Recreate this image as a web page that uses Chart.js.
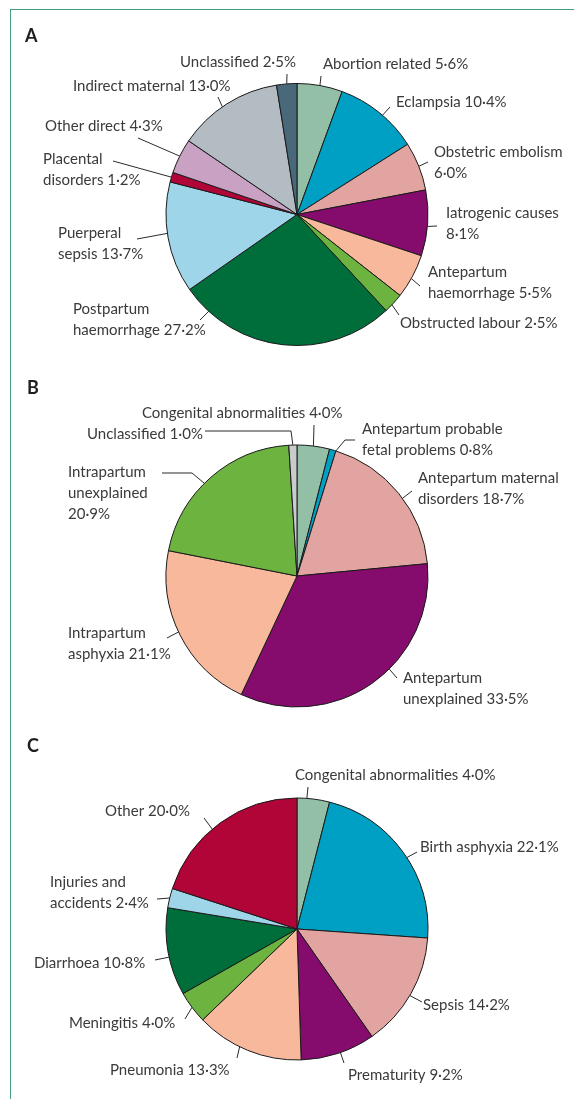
<!DOCTYPE html>
<html>
<head>
<meta charset="utf-8">
<script src="https://cdn.jsdelivr.net/npm/chart.js@4/dist/chart.umd.min.js"></script>
<style>
  html, body { margin: 0; padding: 0; background: #ffffff; }
  body { width: 574px; height: 1099px; position: relative; overflow: hidden; }
  #frame { position: absolute; left: 10px; top: 9px; width: 600px; height: 1200px;
           border-top: 1.5px solid #45a07c; border-left: 1.5px solid #45a07c; }
  canvas { position: absolute; left: 0; }
</style>
</head>
<body>
<div id="frame"></div>
<canvas id="cA" width="574" height="360" style="top:0px"></canvas>
<canvas id="cB" width="574" height="360" style="top:360px"></canvas>
<canvas id="cC" width="574" height="379" style="top:720px"></canvas>
<script>
// ---------- DATA ----------
const catsA = ["Abortion related", "Eclampsia", "Obstetric embolism", "Iatrogenic causes",
  "Antepartum haemorrhage", "Obstructed labour", "Postpartum haemorrhage", "Puerperal sepsis",
  "Placental disorders", "Other direct", "Indirect maternal", "Unclassified"];
const valsA = [5.6, 10.4, 6.0, 8.1, 5.5, 2.5, 27.2, 13.7, 1.2, 4.3, 13.0, 2.5];
const labelsA = [["Abortion related 5·6%"], ["Eclampsia 10·4%"], ["Obstetric embolism", "6·0%"],
  ["Iatrogenic causes", "8·1%"], ["Antepartum", "haemorrhage 5·5%"], ["Obstructed labour 2·5%"],
  ["Postpartum", "haemorrhage 27·2%"], ["Puerperal", "sepsis 13·7%"], ["Placental", "disorders 1·2%"],
  ["Other direct 4·3%"], ["Indirect maternal 13·0%"], ["Unclassified 2·5%"]];

const catsB = ["Congenital abnormalities", "Antepartum probable fetal problems",
  "Antepartum maternal disorders", "Antepartum unexplained", "Intrapartum asphyxia",
  "Intrapartum unexplained", "Unclassified"];
const valsB = [4.0, 0.8, 18.7, 33.5, 21.1, 20.9, 1.0];
const labelsB = [["Congenital abnormalities 4·0%"], ["Antepartum probable", "fetal problems 0·8%"],
  ["Antepartum maternal", "disorders 18·7%"], ["Antepartum", "unexplained 33·5%"],
  ["Intrapartum", "asphyxia 21·1%"], ["Intrapartum", "unexplained", "20·9%"], ["Unclassified 1·0%"]];

const catsC = ["Congenital abnormalities", "Birth asphyxia", "Sepsis", "Prematurity", "Pneumonia",
  "Meningitis", "Diarrhoea", "Injuries and accidents", "Other"];
const valsC = [4.0, 22.1, 14.2, 9.2, 13.3, 4.0, 10.8, 2.4, 20.0];
const labelsC = [["Congenital abnormalities 4·0%"], ["Birth asphyxia 22·1%"], ["Sepsis 14·2%"],
  ["Prematurity 9·2%"], ["Pneumonia 13·3%"], ["Meningitis 4·0%"], ["Diarrhoea 10·8%"],
  ["Injuries and", "accidents 2·4%"], ["Other 20·0%"]];

// ---------- STYLE / LAYOUT ----------
const C = {
  sage: "#93bfa6", cyan: "#00a0c4", pink: "#e2a4a1", purple: "#850b6c", peach: "#f8b89b",
  lgreen: "#6cb43f", dgreen: "#006e3b", lblue: "#9fd5e8", crimson: "#b10538",
  mauve: "#c9a1c2", grey: "#b3bbc3", slate: "#49697a", lgrey: "#c9cbcd"
};
const colA = [C.sage, C.cyan, C.pink, C.purple, C.peach, C.lgreen, C.dgreen, C.lblue, C.crimson, C.mauve, C.grey, C.slate];
const colB = [C.sage, C.cyan, C.pink, C.purple, C.peach, C.lgreen, C.lgrey];
const colC = [C.sage, C.cyan, C.pink, C.purple, C.peach, C.lgreen, C.dgreen, C.lblue, C.crimson];

// label layout in canvas-local pixels: text [x, yCenterOfFirstLine], leader anchor fraction in slice, leader points
const layA = [
  {t: [323, 64], f: 0.5, p: [[321, 76]]},
  {t: [396, 102], f: 0.55, p: [[390, 107]]},
  {t: [434, 152], f: 0.5, p: [[428, 162]]},
  {t: [446, 213], f: 0.55, p: [[437, 226]]},
  {t: [428, 272], f: 0.55, p: [[420, 286]]},
  {t: [400, 323], f: 0.6, p: [[399, 315]]},
  {t: [73, 309], f: 0.87, p: [[200, 320]]},
  {t: [58, 233], f: 0.54, p: [[137, 239]]},
  {t: [43, 159], f: 0.5, p: [[113, 161]]},
  {t: [45, 126], f: 0.5, p: [[138, 138]]},
  {t: [73, 86], f: 0.45, p: [[218, 97]]},
  {t: [180, 62], f: 0.5, p: [[287, 74]]}
];
const layB = [
  {t: [142, 53], f: 0.5, p: [[314, 65]]},
  {t: [362, 69], f: 1.0, p: [[345, 80], [355, 80]]},
  {t: [418, 118], f: 0.54, p: [[412, 131]]},
  {t: [403, 318], f: 0.42, p: [[397, 318]]},
  {t: [68, 273], f: 0.52, p: [[167, 278]]},
  {t: [68, 112], f: 0.45, p: [[192, 113], [162, 113]]},
  {t: [87, 74], f: 0.5, p: [[291, 71], [205, 71]]}
];
const layC = [
  {t: [295, 55], f: 0.3, p: [[308, 67]]},
  {t: [420, 127], f: 0.535, p: [[417, 132]]},
  {t: [423, 285], f: 0.52, p: [[422, 282]]},
  {t: [348, 355], f: 0.47, p: [[344, 343]]},
  {t: [110, 350], f: 0.58, p: [[237, 338]]},
  {t: [69, 303], f: 0.5, p: [[185, 299]]},
  {t: [34, 243], f: 0.44, p: [[155, 240]]},
  {t: [50, 162], f: 0.5, p: [[157, 179]]},
  {t: [105, 91], f: 0.44, p: [[204, 98]]}
];

const FONT = "15px Lato, 'Open Sans', sans-serif";
const TEXT = "#3a3a3a";
const LINE = "#2a2a2a";
const LH = 21;

function labelPlugin(texts, lay, letter, letterPos) {
  return {
    id: "labels",
    afterDraw(chart) {
      const ctx = chart.ctx;
      const arcs = chart.getDatasetMeta(0).data;
      ctx.save();
      ctx.strokeStyle = LINE;
      ctx.lineWidth = 1;
      arcs.forEach((arc, i) => {
        const L = lay[i];
        const a = arc.startAngle + L.f * (arc.endAngle - arc.startAngle);
        const x0 = arc.x + arc.outerRadius * Math.cos(a);
        const y0 = arc.y + arc.outerRadius * Math.sin(a);
        ctx.beginPath();
        ctx.moveTo(x0, y0);
        L.p.forEach(pt => ctx.lineTo(pt[0], pt[1]));
        ctx.stroke();
        ctx.fillStyle = TEXT;
        ctx.font = FONT;
        ctx.textBaseline = "middle";
        ctx.textAlign = "left";
        texts[i].forEach((s, k) => ctx.fillText(s, L.t[0], L.t[1] + k * LH));
      });
      ctx.fillStyle = "#1e1e1e";
      ctx.font = "bold 18px Lato, 'Open Sans', sans-serif";
      ctx.textBaseline = "middle";
      ctx.fillText(letter, letterPos[0], letterPos[1]);
      ctx.restore();
    }
  };
}

function makePie(id, cats, vals, cols, texts, lay, pad, letter, letterPos) {
  new Chart(document.getElementById(id), {
    type: "pie",
    data: {
      labels: cats,
      datasets: [{ data: vals, backgroundColor: cols, borderColor: "#1a1a1a", borderWidth: 1 }]
    },
    options: {
      responsive: false,
      animation: false,
      radius: 131,
      layout: { padding: pad },
      plugins: { legend: { display: false }, tooltip: { enabled: false } }
    },
    plugins: [labelPlugin(texts, lay, letter, letterPos)]
  });
}

makePie("cA", catsA, valsA, colA, labelsA, layA, {left: 166, right: 146, top: 83.5, bottom: 14.5}, "A", [25, 36]);
makePie("cB", catsB, valsB, colB, labelsB, layB, {left: 166, right: 146, top: 85, bottom: 13}, "B", [27, 28]);
makePie("cC", catsC, valsC, colC, labelsC, layC, {left: 166, right: 146, top: 78, bottom: 39}, "C", [27, 26]);
</script>
</body>
</html>
